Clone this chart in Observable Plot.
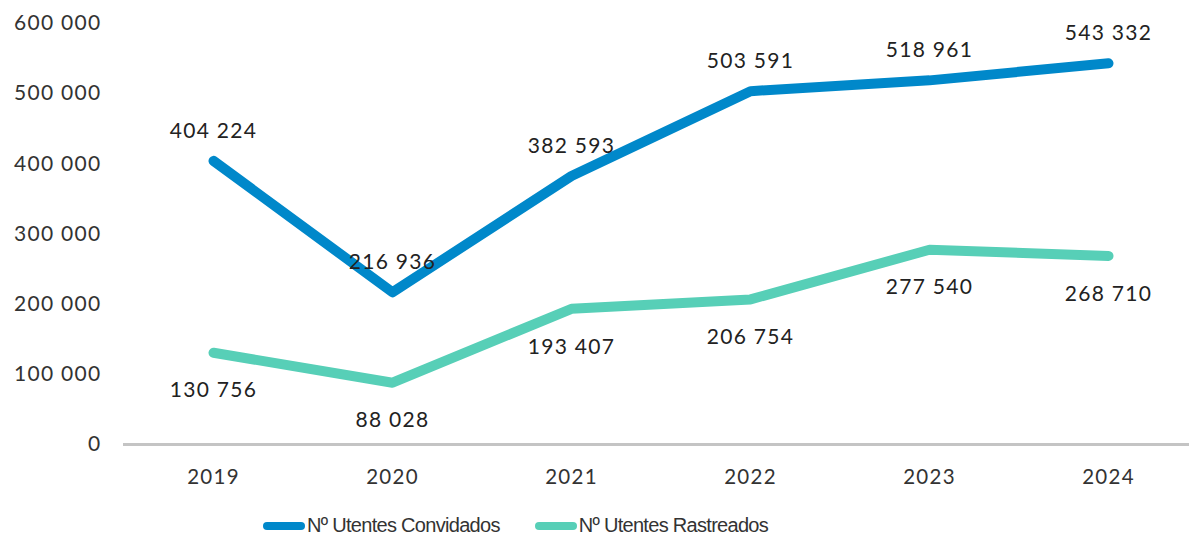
<!DOCTYPE html>
<html>
<head>
<meta charset="utf-8">
<script src="https://cdn.jsdelivr.net/npm/d3@7"></script>
<script src="https://cdn.jsdelivr.net/npm/@observablehq/plot@0.6"></script>
<style>
  html, body { margin: 0; padding: 0; background: #fff; }
  #chart { width: 1189px; }
  .legend { display: flex; align-items: center; height: 43px; margin-top: 9px; padding-left: 263px; font-family: "Liberation Sans", Arial, sans-serif; font-size: 20px; letter-spacing: -0.7px; color: #333; }
  .legend .item { display: flex; align-items: center; margin-right: 35px; }
  .legend .sw { width: 42px; height: 8px; border-radius: 4px; margin-right: 2px; }
  svg text { letter-spacing: 1.3px; }
</style>
</head>
<body>
<div id="chart"></div>
<script>
const years = ["2019", "2020", "2021", "2022", "2023", "2024"];
const convidados = [404224, 216936, 382593, 503591, 518961, 543332];
const rastreados = [130756, 88028, 193407, 206754, 277540, 268710];
const seriesNames = ["Nº Utentes Convidados", "Nº Utentes Rastreados"];
const colors = ["#0088CA", "#57CFB7"];
const yTicks = [0, 100000, 200000, 300000, 400000, 500000, 600000];

const fmt = v => d3.format(",")(v).replace(/,/g, " ");

const dataC = years.map((y, i) => ({year: y, value: convidados[i]}));
const dataR = years.map((y, i) => ({year: y, value: rastreados[i]}));

const font = "Lato, 'Open Sans', sans-serif";

const plot = Plot.plot({
  width: 1189,
  height: 495,
  marginLeft: 123,
  marginRight: -8,
  marginTop: 23,
  marginBottom: 51,
  style: { fontFamily: font, fontSize: "20px", color: "#333", background: "#fff" },
  x: { type: "point", domain: years, padding: 0.5, label: null },
  y: { domain: [0, 600000], label: null },
  marks: [
    Plot.axisY({ ticks: yTicks, tickFormat: fmt, tickSize: 0, tickPadding: 22, fontSize: 21, fill: "#333" }),
    Plot.axisX({ tickSize: 0, tickPadding: 25, fontSize: 20.5, fill: "#333" }),
    Plot.ruleY([0], { stroke: "#c4c4c4", strokeWidth: 3 }),
    Plot.line(dataC, { x: "year", y: "value", stroke: colors[0], strokeWidth: 10, strokeLinecap: "round", strokeLinejoin: "round" }),
    Plot.line(dataR, { x: "year", y: "value", stroke: colors[1], strokeWidth: 10, strokeLinecap: "round", strokeLinejoin: "round" }),
    Plot.text(dataC, { x: "year", y: "value", text: d => fmt(d.value), dy: -30, fontSize: 21, fill: "#222" }),
    Plot.text(dataR, { x: "year", y: "value", text: d => fmt(d.value), dy: 38, fontSize: 21, fill: "#222" })
  ]
});
document.getElementById("chart").appendChild(plot);

const legend = document.createElement("div");
legend.className = "legend";
seriesNames.forEach((name, i) => {
  const item = document.createElement("div");
  item.className = "item";
  const sw = document.createElement("span");
  sw.className = "sw";
  sw.style.background = colors[i];
  const t = document.createElement("span");
  t.textContent = name;
  item.appendChild(sw);
  item.appendChild(t);
  legend.appendChild(item);
});
document.getElementById("chart").appendChild(legend);
</script>
</body>
</html>
